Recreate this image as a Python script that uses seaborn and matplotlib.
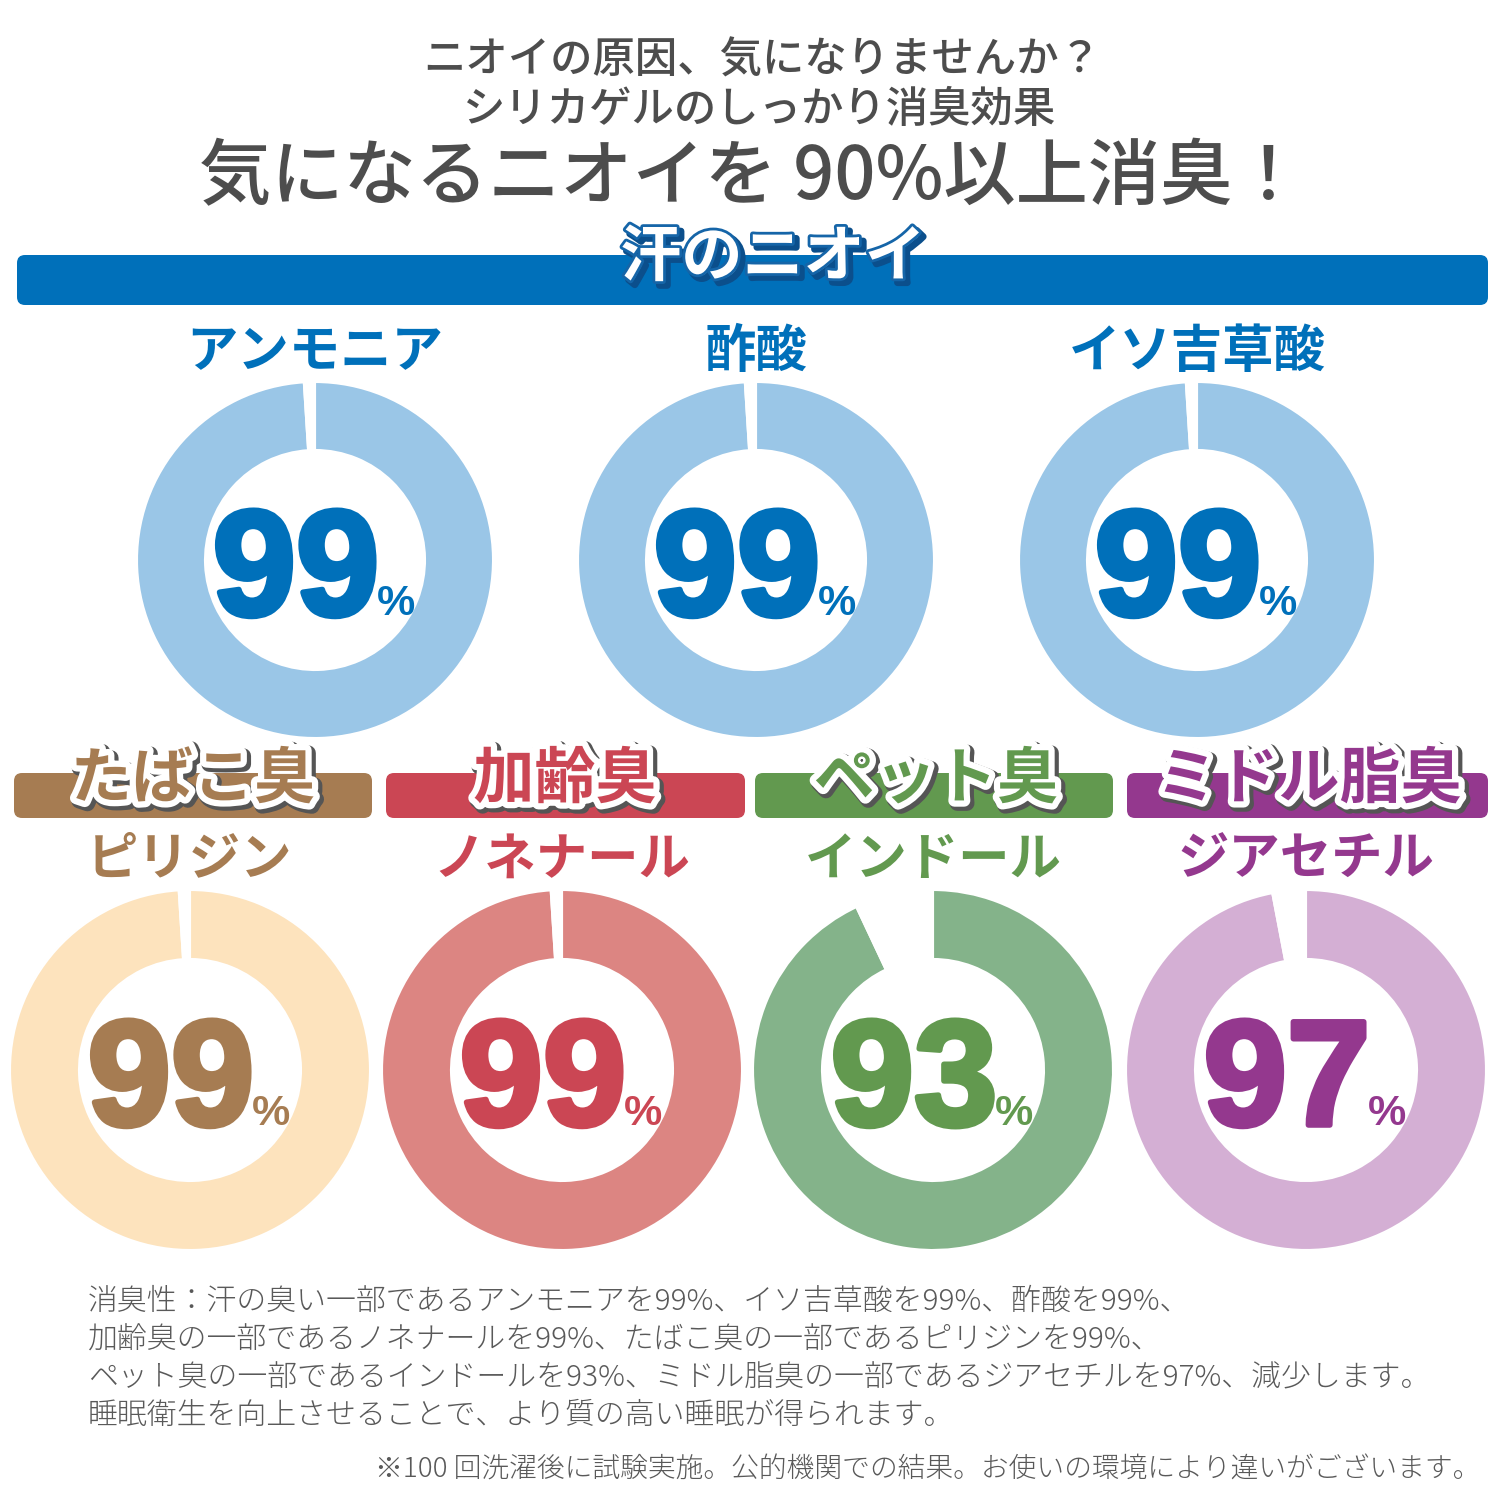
import matplotlib
matplotlib.use("Agg")
import matplotlib.pyplot as plt
import matplotlib.patheffects as pe
from matplotlib.patches import FancyBboxPatch
import seaborn as sns

# ---- data ----
title_lines = ["ニオイの原因、気になりませんか？", "シリカゲルのしっかり消臭効果", "気になるニオイを 90%以上消臭！"]
top_group = "汗のニオイ"
top_compounds = ["アンモニア", "酢酸", "イソ吉草酸"]
top_values = [99, 99, 99]
bottom_groups = ["たばこ臭", "加齢臭", "ペット臭", "ミドル脂臭"]
bottom_compounds = ["ピリジン", "ノネナール", "インドール", "ジアセチル"]
bottom_values = [99, 99, 93, 97]
footer_lines = [
    "消臭性：汗の臭い一部であるアンモニアを99%、イソ吉草酸を99%、酢酸を99%、",
    "加齢臭の一部であるノネナールを99%、たばこ臭の一部であるピリジンを99%、",
    "ペット臭の一部であるインドールを93%、ミドル脂臭の一部であるジアセチルを97%、減少します。",
    "睡眠衛生を向上させることで、より質の高い睡眠が得られます。",
]
note_line = "※100 回洗濯後に試験実施。公的機関での結果。お使いの環境により違いがございます。"

# ---- style ----
top_ring = "#9AC6E7"
top_text = "#0070BA"
bottom_ring = ["#FDE3BD", "#DC8582", "#84B38A", "#D4AFD4"]
bottom_text = ["#A67C52", "#CB4654", "#62994F", "#94388E"]
gray = "#4D4D4D"

sns.set_theme(style="white")
plt.rcParams["font.family"] = ["Noto Sans CJK JP", "DejaVu Sans"]

W = H = 1500
fig = plt.figure(figsize=(15, 15), dpi=100)
fig.patch.set_facecolor("white")
ax = fig.add_axes([0, 0, 1, 1])
ax.set_xlim(0, W)
ax.set_ylim(H, 0)
ax.axis("off")
ax.set_zorder(5)
ax.patch.set_alpha(0)

# titles
ax.text(762, 60, title_lines[0], ha="center", va="center", fontsize=30.5, color=gray,
        fontweight="medium")
ax.text(760, 110, title_lines[1], ha="center", va="center", fontsize=30.5, color=gray,
        fontweight="medium")
ax.text(752, 178, title_lines[2], ha="center", va="center", fontsize=52, color=gray,
        fontweight="medium")

def bar(x0, x1, y0, y1, color):
    ax.add_patch(FancyBboxPatch((x0 + 8, y0 + 8), x1 - x0 - 16, y1 - y0 - 16,
                                boxstyle="round,pad=8", fc=color, ec="none", zorder=1))

# top header
bar(17, 1488, 255, 305, top_text)
ax.text(773, 258, top_group, ha="center", va="center", fontsize=44, color="white",
        fontweight="bold", zorder=3,
        path_effects=[pe.Stroke(linewidth=5, foreground="#0b4f8c", offset=(3, -3)),
                      pe.Stroke(linewidth=4, foreground="#1565a8"), pe.Normal()])

def donut(cx, cy, R, r, value, ring, tcol):
    axd = fig.add_axes([(cx - R) / W, 1 - (cy + R) / H, 2 * R / W, 2 * R / H])
    axd.pie([value, 100 - value], colors=[ring, "white"], startangle=90, counterclock=False,
            radius=1, wedgeprops=dict(width=(R - r) / R, edgecolor="white", linewidth=1.5))
    axd.set_xlim(-1, 1)
    axd.set_ylim(-1, 1)
    axd.axis("off")
    ax.text(cx - 19, cy + 55, f"{value}", ha="center", va="baseline", fontsize=108,
            fontweight="bold", family="Liberation Sans", color=tcol,
            path_effects=[pe.Stroke(linewidth=4, foreground=tcol), pe.Normal()])
    ax.text(cx + 81, cy + 55, "%", ha="center", va="baseline", fontsize=31,
            fontweight="bold", family="Liberation Sans", color=tcol)

top_cx = [315, 756, 1197]
for cx, name, val in zip(top_cx, top_compounds, top_values):
    ax.text(cx, 351, name, ha="center", va="center", fontsize=37, fontweight="bold", color=top_text)
    donut(cx, 560, 178, 110, val, top_ring, top_text)

bot_cx = [190, 562, 933, 1306]
bars_x = [(14, 372), (386, 745), (755, 1113), (1127, 1488)]
for i, (cx, grp, name, val) in enumerate(zip(bot_cx, bottom_groups, bottom_compounds, bottom_values)):
    bar(bars_x[i][0], bars_x[i][1], 773, 818, bottom_text[i])
    ax.text(cx + 3, 780, grp, ha="center", va="center", fontsize=44, fontweight="bold",
            color=bottom_text[i], zorder=3,
            path_effects=[pe.Stroke(linewidth=11, foreground="#555555", offset=(2, -2)),
                          pe.Stroke(linewidth=9, foreground="white"), pe.Normal()])
    ax.text(cx, 859, name, ha="center", va="center", fontsize=37, fontweight="bold",
            color=bottom_text[i])
    donut(cx, 1070, 180, 111, val, bottom_ring[i], bottom_text[i])

# footer
for k, line in enumerate(footer_lines):
    ax.text(88, 1302 + 38 * k, line, ha="left", va="center", fontsize=21.5,
            color="#595959", fontweight="light")
ax.text(1480, 1470, note_line, ha="right", va="center", fontsize=20, color="#595959",
        fontweight="light")

fig.savefig("out.png", dpi=100, facecolor="white")
